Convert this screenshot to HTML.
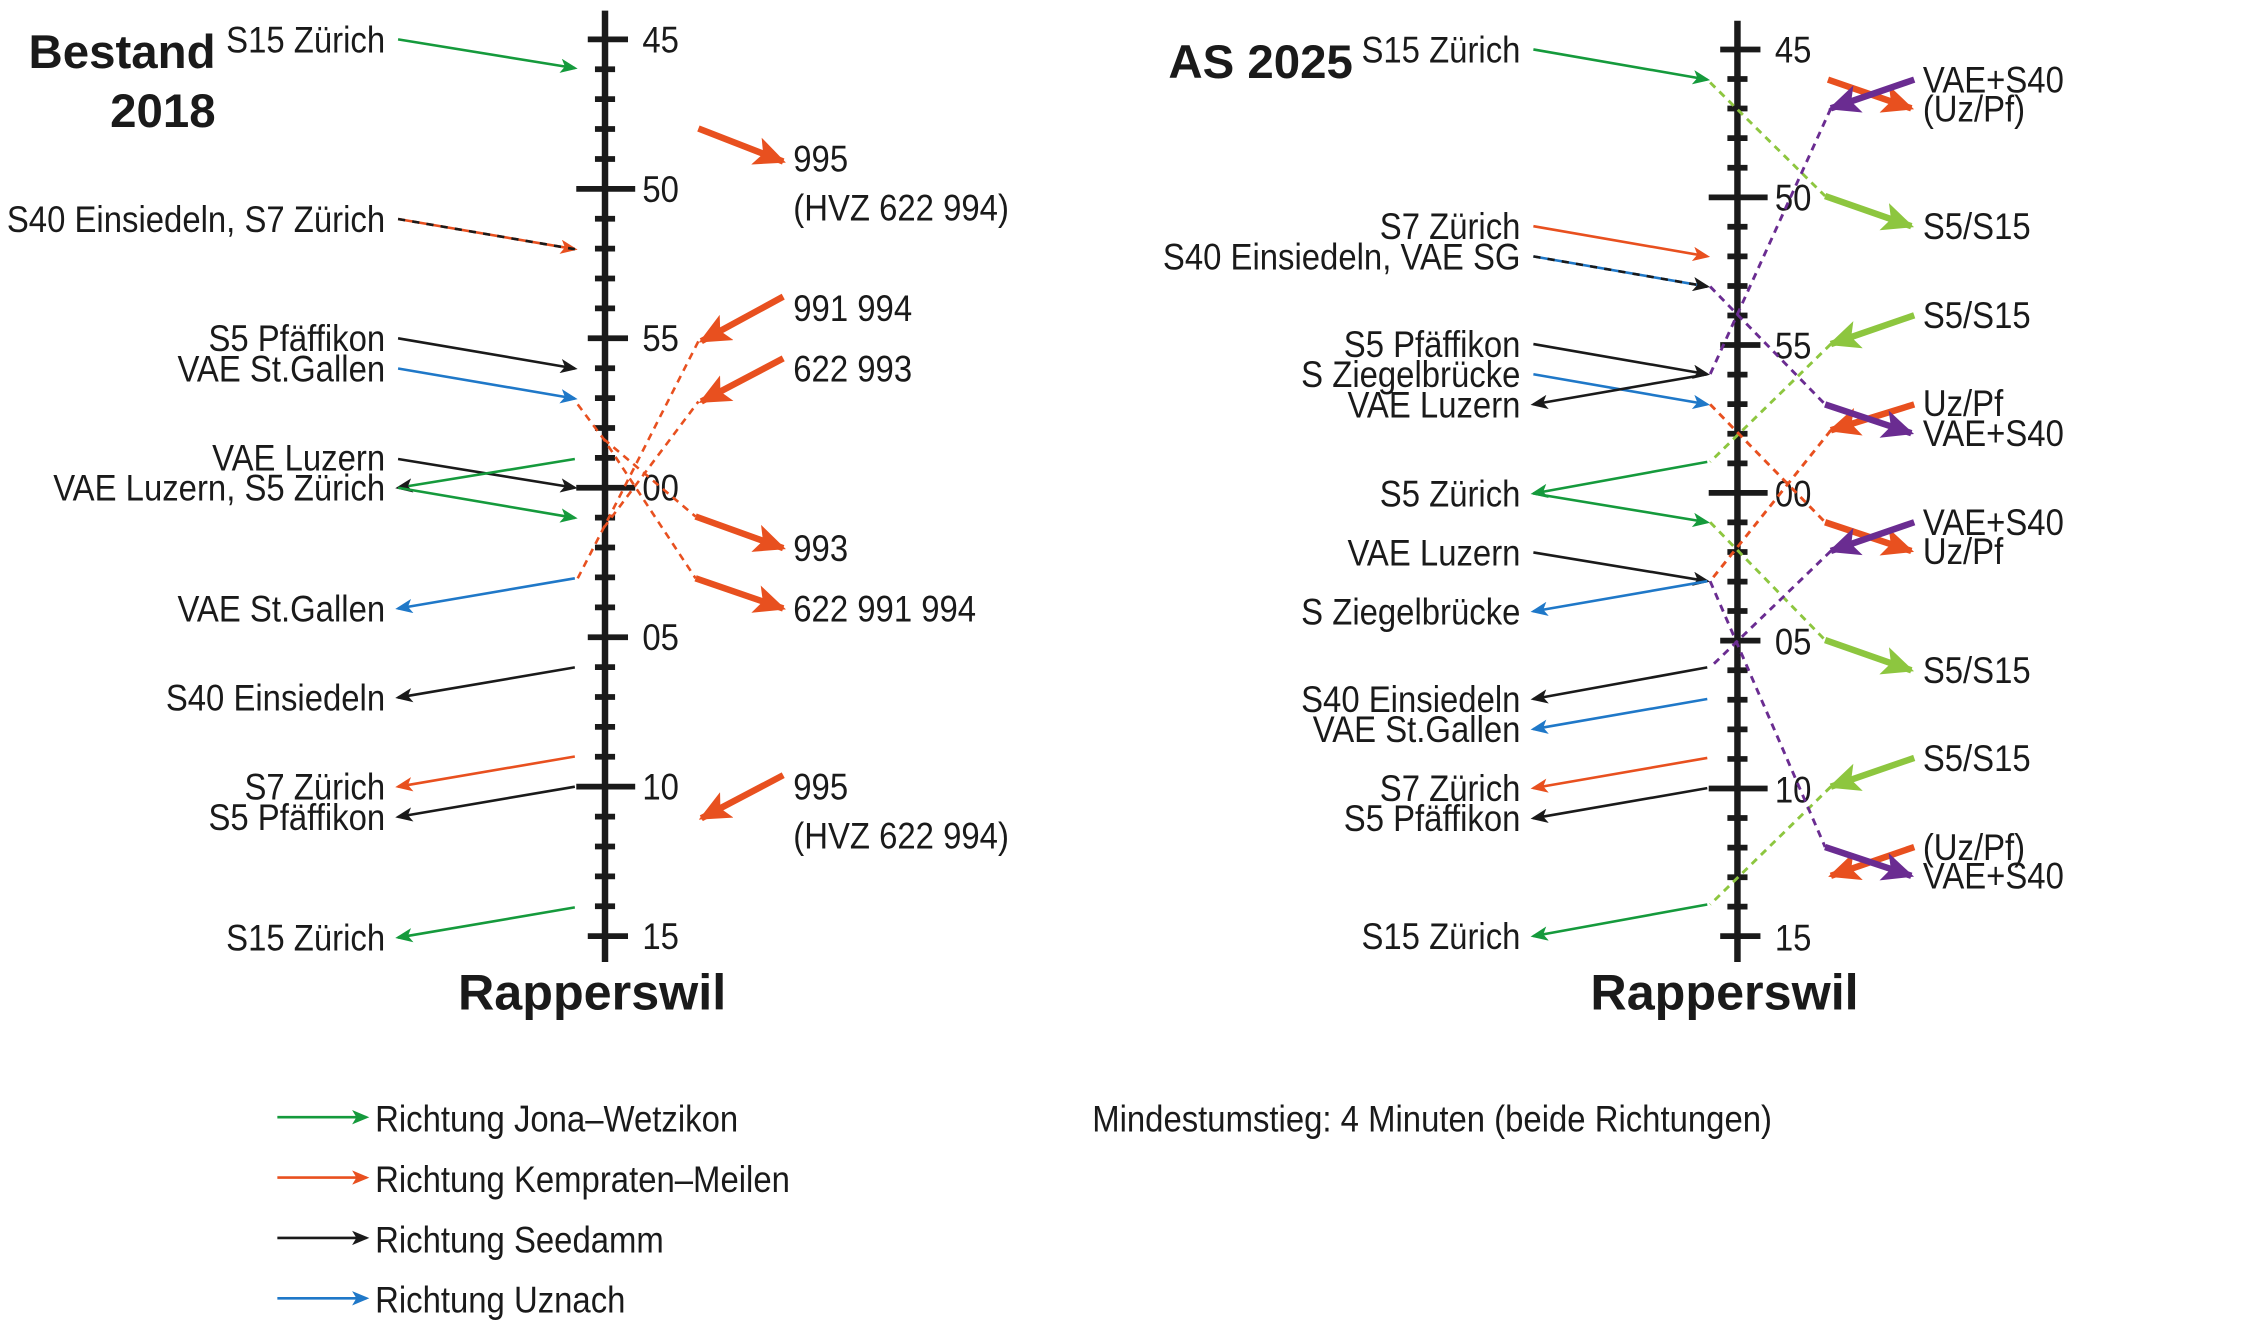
<!DOCTYPE html>
<html><head><meta charset="utf-8"><style>
html,body{margin:0;padding:0;background:#fff;width:2250px;height:1330px;overflow:hidden}
svg{display:block}
text{font-family:"Liberation Sans Narrow","Liberation Sans",sans-serif;font-size:26px;fill:#1a1a1a}
.b{font-family:"Liberation Sans",sans-serif;font-weight:bold;font-size:33px}
.e{text-anchor:end}
</style></head><body>
<svg width="2250" height="1330" viewBox="0 0 1550 916" xmlns="http://www.w3.org/2000/svg">
<defs>
<marker id="sg" markerUnits="userSpaceOnUse" markerWidth="12" markerHeight="10" refX="10" refY="5" orient="auto"><path d="M0,0L12,5L0,10L3,5z" fill="#159a3c"/></marker>
<marker id="so" markerUnits="userSpaceOnUse" markerWidth="12" markerHeight="10" refX="10" refY="5" orient="auto"><path d="M0,0L12,5L0,10L3,5z" fill="#e8501f"/></marker>
<marker id="sk" markerUnits="userSpaceOnUse" markerWidth="12" markerHeight="10" refX="10" refY="5" orient="auto"><path d="M0,0L12,5L0,10L3,5z" fill="#1a1a1a"/></marker>
<marker id="sb" markerUnits="userSpaceOnUse" markerWidth="12" markerHeight="10" refX="10" refY="5" orient="auto"><path d="M0,0L12,5L0,10L3,5z" fill="#1f78c8"/></marker>
<marker id="to" markerUnits="userSpaceOnUse" markerWidth="22" markerHeight="20" refX="20" refY="10" orient="auto"><path d="M0,0L22,10L0,20L5,10z" fill="#e8501f"/></marker>
<marker id="tl" markerUnits="userSpaceOnUse" markerWidth="22" markerHeight="20" refX="20" refY="10" orient="auto"><path d="M0,0L22,10L0,20L5,10z" fill="#8dc63f"/></marker>
<marker id="tp" markerUnits="userSpaceOnUse" markerWidth="22" markerHeight="20" refX="20" refY="10" orient="auto"><path d="M0,0L22,10L0,20L5,10z" fill="#6a2c91"/></marker>
</defs>
<g transform="translate(0,-0.7) scale(0.99)">
<!-- LEFT AXIS -->
<line x1="421" y1="8" x2="421" y2="670" stroke="#1a1a1a" stroke-width="4.5"/>
<g stroke="#1a1a1a" stroke-width="4">
<line x1="409" y1="28" x2="437" y2="28"/><line x1="414" y1="48.8" x2="428" y2="48.8"/><line x1="414" y1="69.6" x2="428" y2="69.6"/><line x1="414" y1="90.4" x2="428" y2="90.4"/><line x1="414" y1="111.2" x2="428" y2="111.2"/>
<line x1="401" y1="132" x2="442" y2="132"/><line x1="414" y1="152.8" x2="428" y2="152.8"/><line x1="414" y1="173.6" x2="428" y2="173.6"/><line x1="414" y1="194.4" x2="428" y2="194.4"/><line x1="414" y1="215.2" x2="428" y2="215.2"/>
<line x1="409" y1="236" x2="437" y2="236"/><line x1="414" y1="256.8" x2="428" y2="256.8"/><line x1="414" y1="277.6" x2="428" y2="277.6"/><line x1="414" y1="298.4" x2="428" y2="298.4"/><line x1="414" y1="319.2" x2="428" y2="319.2"/>
<line x1="401" y1="340" x2="442" y2="340"/><line x1="414" y1="360.8" x2="428" y2="360.8"/><line x1="414" y1="381.6" x2="428" y2="381.6"/><line x1="414" y1="402.4" x2="428" y2="402.4"/><line x1="414" y1="423.2" x2="428" y2="423.2"/>
<line x1="409" y1="444" x2="437" y2="444"/><line x1="414" y1="464.8" x2="428" y2="464.8"/><line x1="414" y1="485.6" x2="428" y2="485.6"/><line x1="414" y1="506.4" x2="428" y2="506.4"/><line x1="414" y1="527.2" x2="428" y2="527.2"/>
<line x1="401" y1="548" x2="442" y2="548"/><line x1="414" y1="568.8" x2="428" y2="568.8"/><line x1="414" y1="589.6" x2="428" y2="589.6"/><line x1="414" y1="610.4" x2="428" y2="610.4"/><line x1="414" y1="631.2" x2="428" y2="631.2"/>
<line x1="409" y1="652" x2="437" y2="652"/>
</g>
<text transform="translate(447,37) scale(.88,1)">45</text><text transform="translate(447,141) scale(.88,1)">50</text><text transform="translate(447,245) scale(.88,1)">55</text><text transform="translate(447,349) scale(.88,1)">00</text><text transform="translate(447,453) scale(.88,1)">05</text><text transform="translate(447,557) scale(.88,1)">10</text><text transform="translate(447,661) scale(.88,1)">15</text>
<text class="b" x="412" y="703" text-anchor="middle" style="font-size:35px">Rapperswil</text>
<text class="b e" x="150" y="48">Bestand</text><text class="b e" x="150" y="89">2018</text>
<text class="e" transform="translate(268,37) scale(.88,1)">S15 Zürich</text>
<text class="e" transform="translate(268,162) scale(.88,1)">S40 Einsiedeln, S7 Zürich</text>
<text class="e" transform="translate(268,245) scale(.88,1)">S5 Pfäffikon</text>
<text class="e" transform="translate(268,266) scale(.88,1)">VAE St.Gallen</text>
<text class="e" transform="translate(268,328) scale(.88,1)">VAE Luzern</text>
<text class="e" transform="translate(268,349) scale(.88,1)">VAE Luzern, S5 Zürich</text>
<text class="e" transform="translate(268,433) scale(.88,1)">VAE St.Gallen</text>
<text class="e" transform="translate(268,495) scale(.88,1)">S40 Einsiedeln</text>
<text class="e" transform="translate(268,557) scale(.88,1)">S7 Zürich</text>
<text class="e" transform="translate(268,578) scale(.88,1)">S5 Pfäffikon</text>
<text class="e" transform="translate(268,662) scale(.88,1)">S15 Zürich</text>
<text transform="translate(552,120) scale(.88,1)">995</text><text transform="translate(552,154) scale(.88,1)">(HVZ 622 994)</text>
<text transform="translate(552,224) scale(.88,1)">991 994</text><text transform="translate(552,266) scale(.88,1)">622 993</text>
<text transform="translate(552,391) scale(.88,1)">993</text><text transform="translate(552,433) scale(.88,1)">622 991 994</text>
<text transform="translate(552,557) scale(.88,1)">995</text><text transform="translate(552,591) scale(.88,1)">(HVZ 622 994)</text>
<g fill="none" stroke-width="1.8">
<line x1="277" y1="28" x2="400" y2="48" stroke="#159a3c" marker-end="url(#sg)"/>
<line x1="277" y1="153" x2="400" y2="174" stroke="#e8501f" marker-end="url(#so)"/>
<line x1="277" y1="153" x2="400" y2="174" stroke="#1a1a1a" stroke-dasharray="5,5"/>
<line x1="277" y1="236" x2="400" y2="257" stroke="#1a1a1a" marker-end="url(#sk)"/>
<line x1="277" y1="257" x2="400" y2="278" stroke="#1f78c8" marker-end="url(#sb)"/>
<line x1="277" y1="320" x2="400" y2="340" stroke="#1a1a1a" marker-end="url(#sk)"/>
<line x1="400" y1="320" x2="277" y2="340" stroke="#159a3c" marker-end="url(#sk)"/>
<line x1="277" y1="340" x2="400" y2="361" stroke="#159a3c" marker-end="url(#sg)"/>
<line x1="400" y1="403" x2="277" y2="424" stroke="#1f78c8" marker-end="url(#sb)"/>
<line x1="400" y1="465" x2="277" y2="486" stroke="#1a1a1a" marker-end="url(#sk)"/>
<line x1="400" y1="527" x2="277" y2="548" stroke="#e8501f" marker-end="url(#so)"/>
<line x1="400" y1="548" x2="277" y2="569" stroke="#1a1a1a" marker-end="url(#sk)"/>
<line x1="400" y1="632" x2="277" y2="653" stroke="#159a3c" marker-end="url(#sg)"/>
</g>
<g fill="none" stroke="#e8501f" stroke-width="1.8" stroke-dasharray="5,4">
<polyline points="402,282 420,306 484,403"/>
<polyline points="420,306 484,360"/>
<polyline points="402,403 420,368 486,238"/>
<polyline points="420,368 486,280"/>
</g>
<g stroke="#e8501f" stroke-width="4.5" fill="none" marker-end="url(#to)">
<line x1="486" y1="90" x2="545" y2="113"/>
<line x1="545" y1="207" x2="488" y2="238"/>
<line x1="545" y1="250" x2="488" y2="280"/>
<line x1="484" y1="360" x2="545" y2="382"/>
<line x1="484" y1="403" x2="545" y2="424"/>
<line x1="545" y1="540" x2="488" y2="570"/>
</g>

<!-- RIGHT AXIS -->
<line x1="1209" y1="15" x2="1209" y2="670" stroke="#1a1a1a" stroke-width="4.5"/>
<g stroke="#1a1a1a" stroke-width="4">
<line x1="1197" y1="35" x2="1225" y2="35"/><line x1="1202" y1="55.6" x2="1216" y2="55.6"/><line x1="1202" y1="76.1" x2="1216" y2="76.1"/><line x1="1202" y1="96.7" x2="1216" y2="96.7"/><line x1="1202" y1="117.3" x2="1216" y2="117.3"/>
<line x1="1189" y1="137.9" x2="1230" y2="137.9"/><line x1="1202" y1="158.4" x2="1216" y2="158.4"/><line x1="1202" y1="179" x2="1216" y2="179"/><line x1="1202" y1="199.6" x2="1216" y2="199.6"/><line x1="1202" y1="220.1" x2="1216" y2="220.1"/>
<line x1="1197" y1="240.7" x2="1225" y2="240.7"/><line x1="1202" y1="261.3" x2="1216" y2="261.3"/><line x1="1202" y1="281.8" x2="1216" y2="281.8"/><line x1="1202" y1="302.4" x2="1216" y2="302.4"/><line x1="1202" y1="323" x2="1216" y2="323"/>
<line x1="1189" y1="343.6" x2="1230" y2="343.6"/><line x1="1202" y1="364.1" x2="1216" y2="364.1"/><line x1="1202" y1="384.7" x2="1216" y2="384.7"/><line x1="1202" y1="405.3" x2="1216" y2="405.3"/><line x1="1202" y1="425.8" x2="1216" y2="425.8"/>
<line x1="1197" y1="446.4" x2="1225" y2="446.4"/><line x1="1202" y1="467" x2="1216" y2="467"/><line x1="1202" y1="487.5" x2="1216" y2="487.5"/><line x1="1202" y1="508.1" x2="1216" y2="508.1"/><line x1="1202" y1="528.7" x2="1216" y2="528.7"/>
<line x1="1189" y1="549.3" x2="1230" y2="549.3"/><line x1="1202" y1="569.8" x2="1216" y2="569.8"/><line x1="1202" y1="590.4" x2="1216" y2="590.4"/><line x1="1202" y1="611" x2="1216" y2="611"/><line x1="1202" y1="631.5" x2="1216" y2="631.5"/>
<line x1="1197" y1="652" x2="1225" y2="652"/>
</g>
<text transform="translate(1235,44) scale(.88,1)">45</text><text transform="translate(1235,147) scale(.88,1)">50</text><text transform="translate(1235,250) scale(.88,1)">55</text><text transform="translate(1235,353) scale(.88,1)">00</text><text transform="translate(1235,456) scale(.88,1)">05</text><text transform="translate(1235,559) scale(.88,1)">10</text><text transform="translate(1235,662) scale(.88,1)">15</text>
<text class="b" x="1200" y="703" text-anchor="middle" style="font-size:35px">Rapperswil</text>
<text class="b" x="813" y="55">AS 2025</text>
<text class="e" transform="translate(1058,44) scale(.88,1)">S15 Zürich</text>
<text class="e" transform="translate(1058,167) scale(.88,1)">S7 Zürich</text>
<text class="e" transform="translate(1058,188) scale(.88,1)">S40 Einsiedeln, VAE SG</text>
<text class="e" transform="translate(1058,249) scale(.88,1)">S5 Pfäffikon</text>
<text class="e" transform="translate(1058,270) scale(.88,1)">S Ziegelbrücke</text>
<text class="e" transform="translate(1058,291) scale(.88,1)">VAE Luzern</text>
<text class="e" transform="translate(1058,353) scale(.88,1)">S5 Zürich</text>
<text class="e" transform="translate(1058,394) scale(.88,1)">VAE Luzern</text>
<text class="e" transform="translate(1058,435) scale(.88,1)">S Ziegelbrücke</text>
<text class="e" transform="translate(1058,496) scale(.88,1)">S40 Einsiedeln</text>
<text class="e" transform="translate(1058,517) scale(.88,1)">VAE St.Gallen</text>
<text class="e" transform="translate(1058,558) scale(.88,1)">S7 Zürich</text>
<text class="e" transform="translate(1058,579) scale(.88,1)">S5 Pfäffikon</text>
<text class="e" transform="translate(1058,661) scale(.88,1)">S15 Zürich</text>
<text transform="translate(1338,65) scale(.88,1)">VAE+S40</text><text transform="translate(1338,85) scale(.88,1)">(Uz/Pf)</text>
<text transform="translate(1338,167) scale(.88,1)">S5/S15</text>
<text transform="translate(1338,229) scale(.88,1)">S5/S15</text>
<text transform="translate(1338,290) scale(.88,1)">Uz/Pf</text><text transform="translate(1338,311) scale(.88,1)">VAE+S40</text>
<text transform="translate(1338,373) scale(.88,1)">VAE+S40</text><text transform="translate(1338,393) scale(.88,1)">Uz/Pf</text>
<text transform="translate(1338,476) scale(.88,1)">S5/S15</text>
<text transform="translate(1338,537) scale(.88,1)">S5/S15</text>
<text transform="translate(1338,599) scale(.88,1)">(Uz/Pf)</text><text transform="translate(1338,619) scale(.88,1)">VAE+S40</text>
<g fill="none" stroke-width="1.8">
<line x1="1067" y1="35" x2="1188" y2="56" stroke="#159a3c" marker-end="url(#sg)"/>
<line x1="1067" y1="158" x2="1188" y2="179" stroke="#e8501f" marker-end="url(#so)"/>
<line x1="1067" y1="179" x2="1188" y2="200" stroke="#1f78c8" marker-end="url(#sk)"/>
<line x1="1067" y1="179" x2="1188" y2="200" stroke="#1a1a1a" stroke-dasharray="5,5"/>
<line x1="1067" y1="240" x2="1188" y2="261" stroke="#1a1a1a" marker-end="url(#sk)"/>
<line x1="1067" y1="261" x2="1188" y2="282" stroke="#1f78c8" marker-end="url(#sb)"/>
<line x1="1188" y1="261" x2="1067" y2="282" stroke="#1a1a1a" marker-end="url(#sk)"/>
<line x1="1188" y1="322" x2="1067" y2="344" stroke="#159a3c" marker-end="url(#sg)"/>
<line x1="1067" y1="344" x2="1188" y2="364" stroke="#159a3c" marker-end="url(#sg)"/>
<line x1="1067" y1="385" x2="1188" y2="405" stroke="#1a1a1a" marker-end="url(#sk)"/>
<line x1="1188" y1="405" x2="1067" y2="426" stroke="#1f78c8" marker-end="url(#sb)"/>
<line x1="1188" y1="465" x2="1067" y2="487" stroke="#1a1a1a" marker-end="url(#sk)"/>
<line x1="1188" y1="487" x2="1067" y2="508" stroke="#1f78c8" marker-end="url(#sb)"/>
<line x1="1188" y1="528" x2="1067" y2="549" stroke="#e8501f" marker-end="url(#so)"/>
<line x1="1188" y1="549" x2="1067" y2="570" stroke="#1a1a1a" marker-end="url(#sk)"/>
<line x1="1188" y1="630" x2="1067" y2="652" stroke="#159a3c" marker-end="url(#sg)"/>
</g>
<g fill="none" stroke-width="2" stroke-dasharray="5,4">
<line x1="1190" y1="58" x2="1270" y2="137" stroke="#8dc63f"/>
<line x1="1274" y1="240" x2="1190" y2="322" stroke="#8dc63f"/>
<line x1="1190" y1="364" x2="1270" y2="446" stroke="#8dc63f"/>
<line x1="1274" y1="548" x2="1190" y2="630" stroke="#8dc63f"/>
<line x1="1274" y1="76" x2="1190" y2="261" stroke="#6a2c91"/>
<line x1="1190" y1="200" x2="1270" y2="282" stroke="#6a2c91"/>
<line x1="1274" y1="384" x2="1190" y2="465" stroke="#6a2c91"/>
<line x1="1190" y1="405" x2="1270" y2="590" stroke="#6a2c91"/>
<line x1="1190" y1="282" x2="1270" y2="364" stroke="#e8501f"/>
<line x1="1274" y1="300" x2="1190" y2="405" stroke="#e8501f"/>
</g>
<g fill="none" stroke-width="4.5">
<line x1="1272" y1="56" x2="1330" y2="76" stroke="#e8501f" marker-end="url(#to)"/>
<line x1="1332" y1="56" x2="1274" y2="76" stroke="#6a2c91" marker-end="url(#tp)"/>
<line x1="1270" y1="137" x2="1330" y2="158" stroke="#8dc63f" marker-end="url(#tl)"/>
<line x1="1332" y1="220" x2="1274" y2="240" stroke="#8dc63f" marker-end="url(#tl)"/>
<line x1="1332" y1="282" x2="1274" y2="300" stroke="#e8501f" marker-end="url(#to)"/>
<line x1="1270" y1="282" x2="1330" y2="302" stroke="#6a2c91" marker-end="url(#tp)"/>
<line x1="1270" y1="364" x2="1330" y2="384" stroke="#e8501f" marker-end="url(#to)"/>
<line x1="1332" y1="364" x2="1274" y2="384" stroke="#6a2c91" marker-end="url(#tp)"/>
<line x1="1270" y1="446" x2="1330" y2="467" stroke="#8dc63f" marker-end="url(#tl)"/>
<line x1="1332" y1="528" x2="1274" y2="548" stroke="#8dc63f" marker-end="url(#tl)"/>
<line x1="1332" y1="590" x2="1274" y2="610" stroke="#e8501f" marker-end="url(#to)"/>
<line x1="1270" y1="590" x2="1330" y2="610" stroke="#6a2c91" marker-end="url(#tp)"/>
</g>

<!-- LEGEND -->
<g stroke-width="1.8">
<line x1="193" y1="778" x2="255" y2="778" stroke="#159a3c" marker-end="url(#sg)"/>
<line x1="193" y1="820" x2="255" y2="820" stroke="#e8501f" marker-end="url(#so)"/>
<line x1="193" y1="862" x2="255" y2="862" stroke="#1a1a1a" marker-end="url(#sk)"/>
<line x1="193" y1="904" x2="255" y2="904" stroke="#1f78c8" marker-end="url(#sb)"/>
</g>
<text transform="translate(261,788) scale(.88,1)">Richtung Jona–Wetzikon</text>
<text transform="translate(261,830) scale(.88,1)">Richtung Kempraten–Meilen</text>
<text transform="translate(261,872) scale(.88,1)">Richtung Seedamm</text>
<text transform="translate(261,914) scale(.88,1)">Richtung Uznach</text>
<text transform="translate(760,788) scale(.88,1)">Mindestumstieg: 4 Minuten (beide Richtungen)</text>
</g>
</svg>
</body></html>
